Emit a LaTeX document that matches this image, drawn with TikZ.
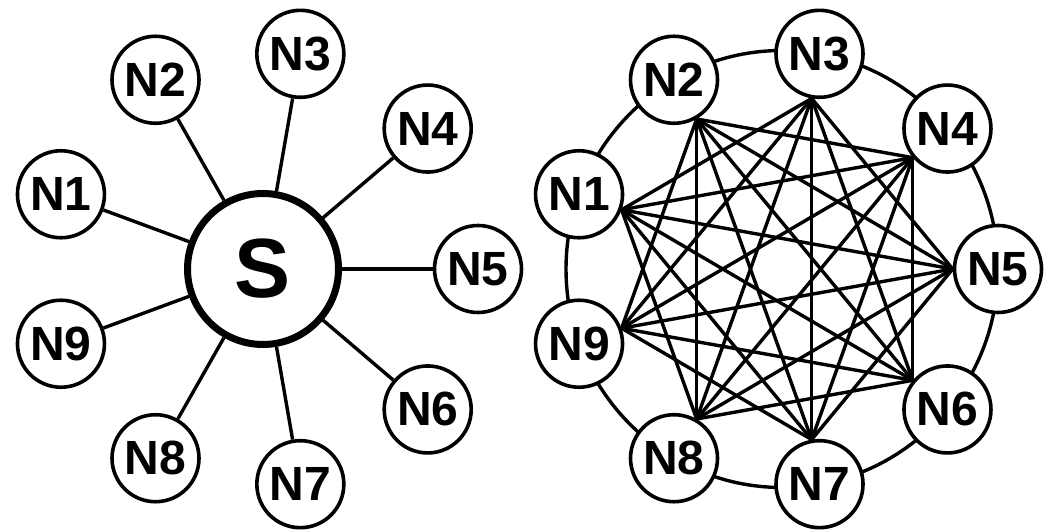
\documentclass[tikz,border=0pt]{standalone}
\usepackage{fontspec}
\setmainfont{Liberation Sans}
\usetikzlibrary{calc}
\begin{document}
\begin{tikzpicture}[x=1pt,y=1pt,
  peer/.style={circle, draw, line width=3.6pt, fill=white, minimum size=87pt,
    inner sep=0pt, font=\fontsize{48}{48}\selectfont\bfseries},
  hub/.style={circle, draw, line width=7pt, fill=white, minimum size=151pt,
    inner sep=0pt, font=\fontsize{84}{84}\selectfont\bfseries},
  link/.style={line width=3.4pt}]
\useasboundingbox (0,0) rectangle (1064,532);

% star topology: hub S with nine peers
\node[hub] (S) at (263,263) {S};
\foreach \k in {1,...,9} {
  \node[peer] (L\k) at ($(263,263)+({200-40*\k}:215 and 218.5)$) {N\k};
  \draw[link] (S) -- (L\k);
}

% ring joining neighbours, plus chords between all non-neighbours
\draw[link] (782,263) ellipse [x radius=216, y radius=218.5];
\foreach \k in {1,...,9} {
  \node[peer] (R\k) at ($(782,263)+({200-40*\k}:216 and 218.5)$) {N\k};
}
\foreach \i in {1,...,7} {
  \pgfmathtruncatemacro\nxt{\i+2}
  \pgfmathtruncatemacro\ai{mod(380-40*\i,360)}
  \foreach \j in {\nxt,...,9} {
    \pgfmathtruncatemacro\aj{mod(380-40*\j,360)}
    \pgfmathtruncatemacro\gap{\j-\i}
    \ifnum\gap<8
      \draw[link] (R\i.\ai) -- (R\j.\aj);
    \fi
  }
}
\end{tikzpicture}
\end{document}
